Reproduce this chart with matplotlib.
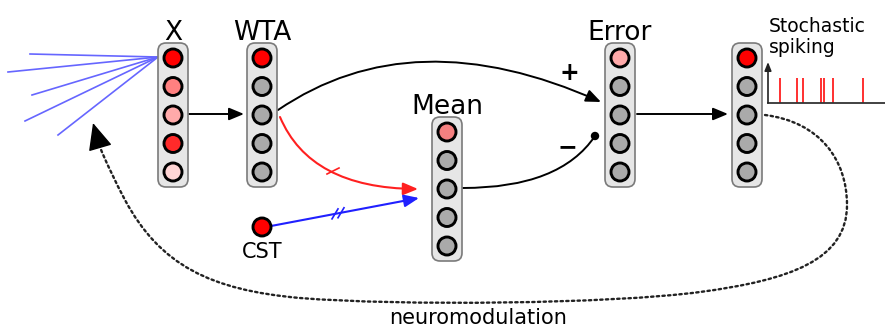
import numpy as np
import matplotlib.pyplot as plt
from matplotlib.patches import Circle, FancyBboxPatch, FancyArrowPatch
from matplotlib.path import Path

# --- content ---
gray = '#aaaaaa'
layer_names = ['X', 'WTA', 'Mean', 'Error', '']
layer_colors = [
    ['#ff0000', '#ff8080', '#ffaaaa', '#ff2a2a', '#ffd5d5'],
    ['#ff0000', gray, gray, gray, gray],
    ['#f58080', gray, gray, gray, gray],
    ['#ffaaaa', gray, gray, gray, gray],
    ['#ff0000', gray, gray, gray, gray],
]
spike_times = [12, 29, 35, 53, 56, 65, 95]   # ms, raster on the right
spike_tmax = 117

# --- layout (pixel units, y downward) ---
col_x = [173, 262, 447, 620, 747]
col_top = [58, 58, 132, 58, 58]
pitch = 28.5
rad = 9

fig = plt.figure(figsize=(8.85, 3.29), dpi=100)
ax = fig.add_axes([0, 0, 1, 1])
ax.set_xlim(0, 885)
ax.set_ylim(329, 0)
ax.axis('off')

HEAD = '-|>,head_length=0.6,head_width=0.25'


def curve(p0, c, p1, color='k', head=True, lw=1.4):
    path = Path([p0, c, p1], [Path.MOVETO, Path.CURVE3, Path.CURVE3])
    ax.add_patch(FancyArrowPatch(path=path, arrowstyle=HEAD if head else '-',
                                 color=color, lw=lw, mutation_scale=15, zorder=2))


def arrow(p0, p1, color='k', lw=1.4):
    ax.annotate('', xy=p1, xytext=p0,
                arrowprops=dict(arrowstyle=HEAD, color=color,
                                lw=lw, mutation_scale=15, shrinkA=0, shrinkB=0), zorder=2)


# input fan
for end in [(30, 54), (8, 72), (32, 95), (25, 121), (58, 135)]:
    ax.plot([158, end[0]], [57, end[1]], color='#6666ff', lw=1.2, zorder=1)

# columns of neurons
for name, cx, y0, cols in zip(layer_names, col_x, col_top, layer_colors):
    r = 8
    box = FancyBboxPatch((cx - 15 + r, y0 - 15 + r), 30 - 2 * r, 4 * pitch + 30 - 2 * r,
                         boxstyle='round,pad=%d' % r, fc='#e6e6e6', ec='#7a7a7a', lw=1.2, zorder=3)
    ax.add_patch(box)
    for i, c in enumerate(cols):
        ax.add_patch(Circle((cx, y0 + i * pitch), rad, fc=c, ec='k', lw=2.1, zorder=4))
    if name:
        ax.text(cx, y0 - 18, name, ha='center', va='baseline', fontsize=19)

# connections
arrow((189, 114), (244, 114))
arrow((637, 114), (728, 114))
curve((278, 110), (413, 18), (601, 102))
ax.text(569, 73, '+', ha='center', va='center', fontsize=17, fontweight='bold')
curve((280, 117), (310, 188), (418, 189), color='#ff2020', lw=1.5)
ax.plot([327, 339], [174, 168], color='#ff2020', lw=1.2)
curve((463, 188), (560, 188), (595, 136), head=False)
ax.add_patch(Circle((595, 136), 3.5, fc='k', ec='k', zorder=5))
ax.text(567, 147, '−', ha='center', va='center', fontsize=17, fontweight='bold')

# CST input
ax.add_patch(Circle((262, 227), rad, fc='#ff0000', ec='k', lw=2.1, zorder=4))
ax.text(262, 258, 'CST', ha='center', va='baseline', fontsize=15)
arrow((271, 226), (419, 198), color='#2020ff', lw=1.5)
for xt in [335, 341]:
    yt = 226 + (xt - 271) * (198 - 226) / (419 - 271)
    ax.plot([xt - 3, xt + 3], [yt + 5, yt - 5], color='#2020ff', lw=1.2)

# neuromodulation loop
verts = [(765, 115), (820, 122), (847, 160), (847, 205),
         (847, 260), (790, 280), (700, 292),
         (610, 304), (400, 306), (300, 298),
         (210, 290), (160, 265), (125, 200),
         (116, 183), (104, 158), (100, 147)]
codes = [Path.MOVETO] + [Path.CURVE4] * 15
ax.add_patch(FancyArrowPatch(path=Path(verts, codes), arrowstyle='-', color='#222222',
                             lw=1.7, linestyle=(0, (1, 1.4)), zorder=1))
ax.annotate('', xy=(93, 123), xytext=(100, 147),
            arrowprops=dict(arrowstyle='-|>,head_length=1.0,head_width=0.45', mutation_scale=17,
                            color='k', lw=1, shrinkA=0, shrinkB=0))
ax.text(478, 324, 'neuromodulation', ha='center', va='baseline', fontsize=15)

# stochastic spiking raster
ax2 = fig.add_axes([768 / 885, (329 - 103) / 329, 117 / 885, 41 / 329])
ax2.set_xlim(0, spike_tmax)
ax2.set_ylim(0, 41)
ax2.axis('off')
ax2.vlines(spike_times, 0, 25, color='#ff2020', lw=1.3)
ax2.plot([0, spike_tmax], [0, 0], color='#333333', lw=1.3, clip_on=False)
ax2.annotate('', xy=(0, 41), xytext=(0, 0),
             arrowprops=dict(arrowstyle='-|>,head_length=0.5,head_width=0.2', mutation_scale=10,
                             color='#222222', lw=1.2, shrinkA=0, shrinkB=0))
ax.text(769, 32, 'Stochastic', ha='left', va='baseline', fontsize=13.5)
ax.text(769, 53, 'spiking', ha='left', va='baseline', fontsize=13.5)

fig.savefig('out.png', dpi=100)
